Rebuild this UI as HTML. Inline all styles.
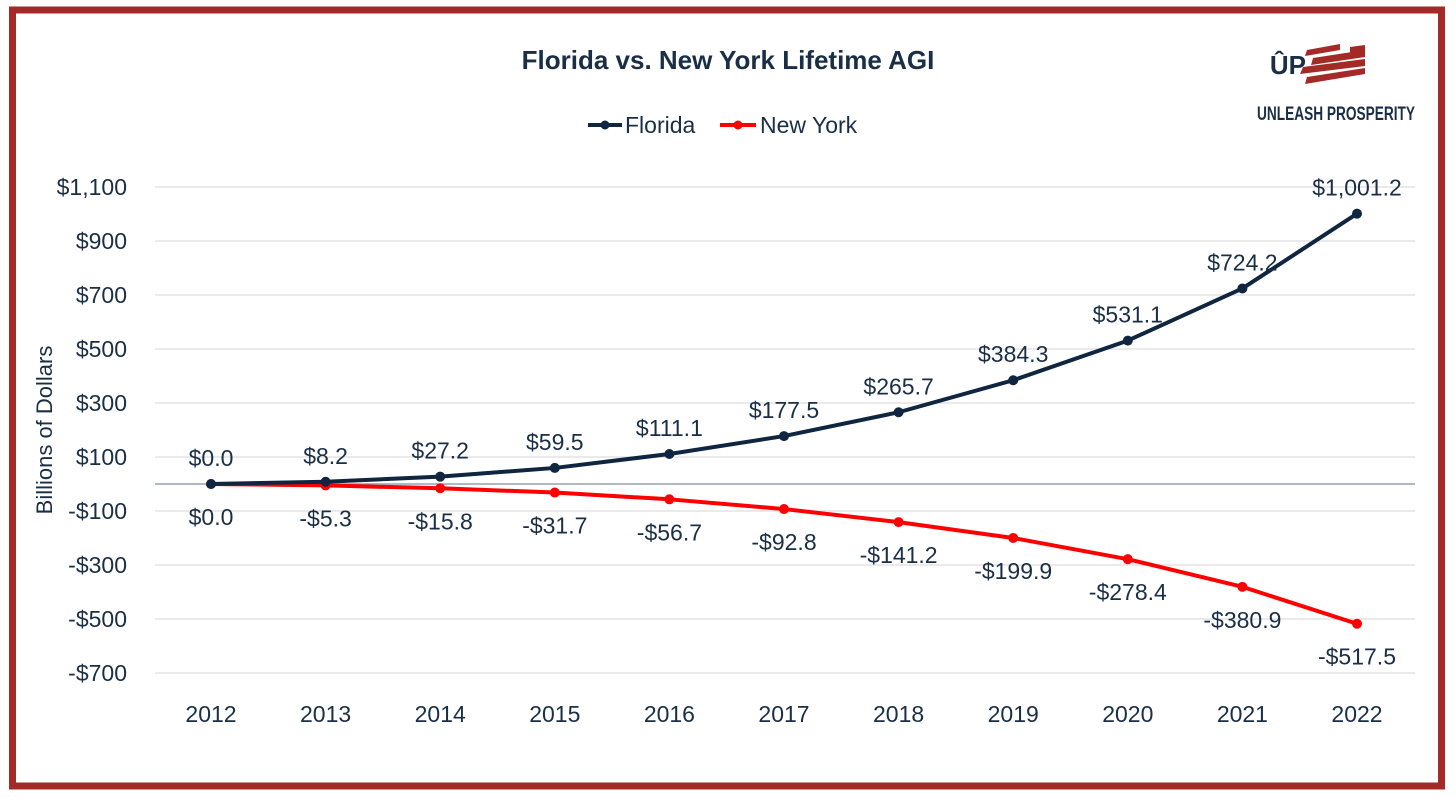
<!DOCTYPE html>
<html><head><meta charset="utf-8"><style>
html,body{margin:0;padding:0;background:#fff;}
svg text{font-family:"Liberation Sans",sans-serif;}
</style></head><body>
<svg id="chart" width="1456" height="792" xmlns="http://www.w3.org/2000/svg">
<rect x="0" y="0" width="1456" height="792" fill="#fff"/>
<rect x="12.5" y="10" width="1429" height="776" fill="none" stroke="#a32a26" stroke-width="7"/>
<text x="728" y="69" text-anchor="middle" font-size="26" font-weight="bold" fill="#1a2e45">Florida vs. New York Lifetime AGI</text>
<g>
 <g>
  <line x1="588" y1="125" x2="622" y2="125" stroke="#0f2540" stroke-width="4"/><circle cx="605" cy="125" r="4.5" fill="#0f2540"/>
  <text x="625" y="133" font-size="23" fill="#1a2e45">Florida</text></g>
 <g>
  <line x1="720" y1="125" x2="756" y2="125" stroke="#f00" stroke-width="4"/><circle cx="738" cy="125" r="4.5" fill="#f00"/>
  <text x="760" y="133" font-size="23" fill="#1a2e45">New York</text></g>
</g>
<g>
 <text x="1306" y="74" text-anchor="end" font-size="26" font-weight="bold" fill="#1a2e45">ÛP</text>
 <path d="M1307 50 L1340 44 L1340 50 L1305 56 Z M1313 58 L1365 50 L1365 57 L1311 65 Z M1303 67 L1365 59 L1365 66 L1300 74 Z M1307 77 L1365 68 L1365 74 L1305 84 Z" fill="#a32a26"/>
 <path d="M1350 47 L1365 45 L1365 51 L1350 53 Z" fill="#a32a26"/>
 <text x="1257" y="120" font-size="19" font-weight="bold" fill="#1a2e45" textLength="158" lengthAdjust="spacingAndGlyphs">UNLEASH PROSPERITY</text>
</g>
<g id="grid"></g><g id="yticks"></g><g id="xticks"></g><g id="series"></g>
<text transform="translate(52,430) rotate(-90)" text-anchor="middle" font-size="22" fill="#1a2e45">Billions of Dollars</text>
</svg>
<script>
const years=["2012","2013","2014","2015","2016","2017","2018","2019","2020","2021","2022"];
const florida=[0.0,8.2,27.2,59.5,111.1,177.5,265.7,384.3,531.1,724.2,1001.2];
const newYork=[0.0,-5.3,-15.8,-31.7,-56.7,-92.8,-141.2,-199.9,-278.4,-380.9,-517.5];
const yTicks=[1100,900,700,500,300,100,-100,-300,-500,-700];
const NS="http://www.w3.org/2000/svg";
const X0=211,X1=1357,Y0=484,PX=0.27,GL=155,GR=1415;
const xs=i=>X0+(X1-X0)*i/(years.length-1);
const ys=v=>Y0-v*PX;
function mk(t,a,p){const e=document.createElementNS(NS,t);for(const k in a)e.setAttribute(k,a[k]);p.appendChild(e);return e;}
const grid=document.getElementById('grid'),yt=document.getElementById('yticks'),xt=document.getElementById('xticks'),ser=document.getElementById('series');
yTicks.forEach(v=>{
 const l=mk('line',{x1:GL,x2:GR,y1:ys(v),y2:ys(v),stroke:'#e3e3e3','stroke-width':1.5},grid);
 
 
 const t=mk('text',{x:127,y:ys(v)+8,'text-anchor':'end','font-size':23,fill:'#1a2e45'},yt);
 t.textContent=(v<0?'-$':'$')+Math.abs(v).toLocaleString('en-US');
 
 
});
const z=mk('line',{x1:GL,x2:GR,y1:ys(0),y2:ys(0),stroke:'#7f8fa0','stroke-width':1.2},grid);


years.forEach((y,i)=>{
 const t=mk('text',{x:xs(i),y:722,'text-anchor':'middle','font-size':23,fill:'#1a2e45'},xt);
 t.textContent=y;
 
 
});
function fmt(v){return (v<0?'-$':'$')+Math.abs(v).toLocaleString('en-US',{minimumFractionDigits:1,maximumFractionDigits:1});}
function draw(vals,color,name,above){
 const g=mk('g',{},ser);
 
 
 const p=mk('polyline',{points:vals.map((v,i)=>xs(i)+','+ys(v)).join(' '),fill:'none',stroke:color,'stroke-width':4,'stroke-linejoin':'round'},g);
 
 
 vals.forEach((v,i)=>{
  const c=mk('circle',{cx:xs(i),cy:ys(v),r:5,fill:color},g);
  
  
  const t=mk('text',{x:xs(i),y:above?ys(v)-18:ys(v)+41,'text-anchor':'middle','font-size':23,fill:'#1a2e45'},g);
  t.textContent=fmt(v);
  
  
 });
}
draw(newYork,'#ff0000','new-york',false);
draw(florida,'#0f2540','florida',true);
</script>
</body></html>
